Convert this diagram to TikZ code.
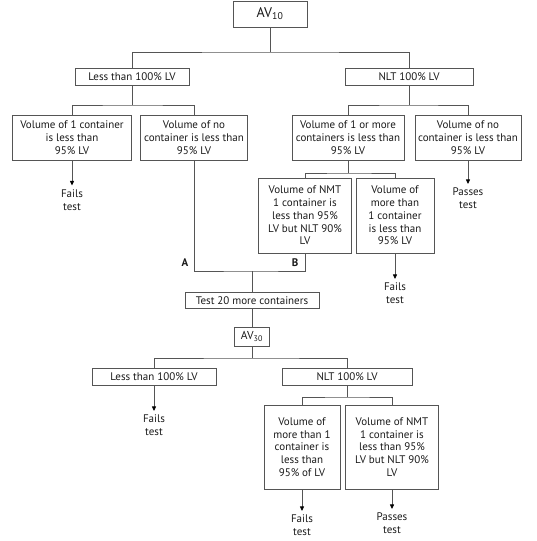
\documentclass[tikz,border=0pt]{standalone}
\usepackage{fontspec}
\setmainfont{PT Sans}
\usetikzlibrary{arrows.meta}
\definecolor{linec}{HTML}{555555}
\definecolor{textc}{HTML}{1A1A1A}
\newcommand\myfs{\fontsize{11}{12.75}\selectfont}
\begin{document}
\begin{tikzpicture}[x=1pt,y=-1pt,
  box/.style={draw=linec, line width=0.8pt, inner sep=0.5pt, align=center, font=\myfs, text=textc},
  res/.style={inner sep=0pt, align=center, font=\myfs, text=textc},
  lab/.style={inner sep=0pt, font=\myfs\bfseries, text=textc},
  conn/.style={draw=linec, line width=0.8pt},
  arr/.style={conn, -{Triangle[length=4.5pt,width=4pt,color=black]}, shorten >=4pt}]
\useasboundingbox (0,0) rectangle (537,541);
% top level
\node[box, minimum width=74, minimum height=26, font=\fontsize{14}{16}\selectfont] (av10) at (270,14) {AV\textsubscript{10}};
\node[box, minimum width=114, minimum height=17] (less1) at (132,76.5) {Less than 100\% LV};
\node[box, minimum width=128, minimum height=17] (nlt1) at (409,76.5) {NLT 100\% LV};
\coordinate (j0) at (270,52);
\draw[conn] (av10.south) -- (j0);
\draw[conn] (less1.north) |- (j0) -| (nlt1.north);
% second level
\node[box, minimum width=119, minimum height=45] (v1) at (72,137.5) {Volume of 1 container\\is less than\\95\% LV};
\node[box, minimum width=107, minimum height=45] (v2) at (194,137.5) {Volume of no\\container is less than\\95\% LV};
\node[box, minimum width=112, minimum height=45] (v3) at (348,137.5) {Volume of 1 or more\\containers is less than\\95\% LV};
\node[box, minimum width=106, minimum height=45] (v4) at (468,137.5) {Volume of no\\container is less than\\95\% LV};
\coordinate (k1) at (132,105);
\coordinate (k2) at (409,105);
\draw[conn] (less1.south) -- (k1);
\draw[conn] (v1.north) |- (k1) -| (v2.north);
\draw[conn] (nlt1.south) -- (k2);
\draw[conn] (v3.north) |- (k2) -| (v4.north);
\node[res] (f1) at (72,200) {Fails\\test};
\node[res] (p1) at (468,198.5) {Passes\\test};
\draw[arr] (v1.south) -- (f1.north);
\draw[arr] (v4.south) -- (p1.north);
% third level
\node[box, minimum width=93, minimum height=75] (n1) at (305,215.5) {Volume of NMT\\1 container is\\less than 95\%\\LV but NLT 90\%\\LV};
\node[box, minimum width=78, minimum height=75] (n2) at (395,215.5) {Volume of\\more than\\1 container\\is less than\\95\% LV};
\coordinate (k3) at (348,173);
\draw[conn] (v3.south) -- (k3);
\draw[conn] (n1.north) |- (k3) -| (n2.north);
\node[res] (f2) at (395,293.5) {Fails\\test};
\draw[arr] (n2.south) -- (f2.north);
% merge
\coordinate (m) at (252,271);
\draw[conn] (v2.south) |- (m) -| (n1.south);
\node[lab] (la) at (185,263) {A};
\node[lab] (lb) at (295,263) {B};
\node[box, minimum width=134, minimum height=15.5] (t20) at (252,300.5) {Test 20 more containers};
\draw[conn] (m) -- (t20.north);
\node[box, minimum width=35, minimum height=19, font=\fontsize{11.5}{13}\selectfont] (av30) at (252,336.5) {AV\textsubscript{30}};
\draw[conn] (t20.south) -- (av30.north);
% bottom level
\node[box, minimum width=124, minimum height=17] (less2) at (154,376.5) {Less than 100\% LV};
\node[box, minimum width=130, minimum height=17] (nlt2) at (347,376.5) {NLT 100\% LV};
\coordinate (j3) at (252,358);
\draw[conn] (av30.south) -- (j3);
\draw[conn] (less2.north) |- (j3) -| (nlt2.north);
\node[res] (f3) at (154,425.5) {Fails\\test};
\draw[arr] (less2.south) -- (f3.north);
\node[box, minimum width=76, minimum height=84] (b1) at (302,447) {Volume of\\more than 1\\container is\\less than\\95\% of LV};
\node[box, minimum width=93, minimum height=84] (b2) at (392,447) {Volume of NMT\\1 container is\\less than 95\%\\LV but NLT 90\%\\LV};
\coordinate (k4) at (347,397);
\draw[conn] (nlt2.south) -- (k4);
\draw[conn] (b1.north) |- (k4) -| (b2.north);
\node[res] (f4) at (302,525.5) {Fails\\test};
\node[res] (p2) at (392,523.5) {Passes\\test};
\draw[arr] (b1.south) -- (f4.north);
\draw[arr] (b2.south) -- (p2.north);
\end{tikzpicture}
\end{document}
